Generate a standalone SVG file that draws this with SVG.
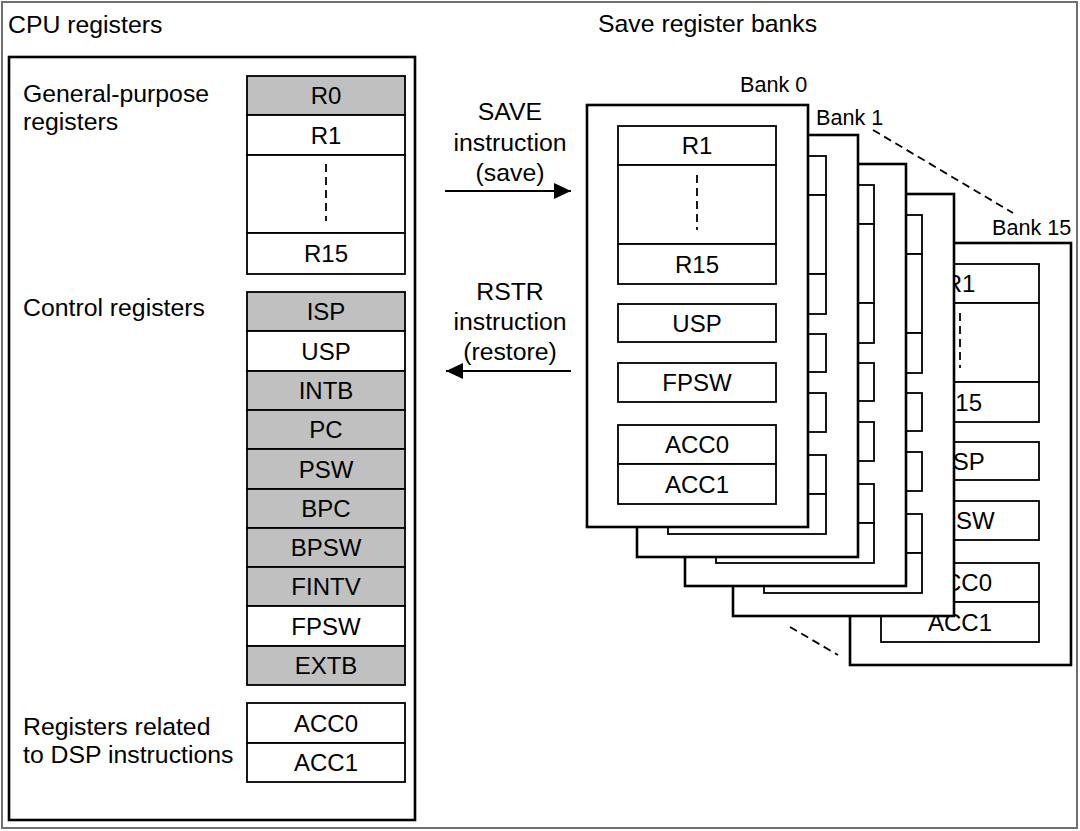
<svg xmlns="http://www.w3.org/2000/svg" width="1080" height="831" viewBox="0 0 1080 831">
<style>
  text { font-family: "Liberation Sans", Arial, sans-serif; fill: #000; }
  .lbl { font-size: 24.8px; }
  .reg { font-size: 24px; text-anchor: middle; }
  .bank-lbl { font-size: 21.6px; }
  .frame { fill: #fff; stroke: #000; stroke-width: 2.6; }
  .box { fill: #fff; stroke: #000; stroke-width: 1.8; }
  .gray { fill: #c0c0c0; stroke: #000; stroke-width: 1.8; }
  .dash { stroke: #000; stroke-width: 1.8; stroke-dasharray: 8 5; fill: none; }
  .conn { stroke: #000; stroke-width: 1.8; fill: none; }
</style>
<defs>
  <marker id="arrow" viewBox="0 0 17 16" refX="17" refY="8" markerWidth="17" markerHeight="16" markerUnits="userSpaceOnUse" orient="auto">
    <path d="M0,0 L17,8 L0,16 z" fill="#000"/>
  </marker>
</defs>
<rect x="0" y="0" width="1080" height="831" fill="#fff"/>
<rect id="outer-frame" x="2" y="2" width="1075" height="826" fill="none" stroke="#707070" stroke-width="2"/>

<text class="lbl" x="8" y="33">CPU registers</text>
<text class="lbl" x="598" y="32">Save register banks</text>

<g id="cpu-registers">
  <rect class="frame" x="9" y="57" width="406" height="763"/>
  <text class="lbl" x="23" y="102">General-purpose</text>
  <text class="lbl" x="23" y="130">registers</text>
  <text class="lbl" x="23" y="316">Control registers</text>
  <text class="lbl" x="23" y="735">Registers related</text>
  <text class="lbl" x="23" y="763">to DSP instructions</text>
</g>

<g id="gp-registers">
  <rect class="gray" x="247" y="76" width="158" height="39"/>
  <text class="reg" x="326" y="104">R0</text>
  <rect class="box" x="247" y="115" width="158" height="40"/>
  <text class="reg" x="326" y="143.5">R1</text>
  <rect class="box" x="247" y="155" width="158" height="78"/>
  <line class="dash" x1="326" y1="164" x2="326" y2="221"/>
  <rect class="box" x="247" y="233" width="158" height="41"/>
  <text class="reg" x="326" y="262">R15</text>
</g>

<g id="control-registers">
  <rect class="gray" x="247" y="292" width="158" height="39"/>
  <text class="reg" x="326" y="320">ISP</text>
  <rect class="box" x="247" y="331" width="158" height="40"/>
  <text class="reg" x="326" y="359.5">USP</text>
  <rect class="gray" x="247" y="371" width="158" height="39"/>
  <text class="reg" x="326" y="399">INTB</text>
  <rect class="gray" x="247" y="410" width="158" height="39"/>
  <text class="reg" x="326" y="438">PC</text>
  <rect class="gray" x="247" y="449" width="158" height="40"/>
  <text class="reg" x="326" y="477.5">PSW</text>
  <rect class="gray" x="247" y="489" width="158" height="39"/>
  <text class="reg" x="326" y="517">BPC</text>
  <rect class="gray" x="247" y="528" width="158" height="39"/>
  <text class="reg" x="326" y="556">BPSW</text>
  <rect class="gray" x="247" y="567" width="158" height="39"/>
  <text class="reg" x="326" y="595">FINTV</text>
  <rect class="box" x="247" y="606" width="158" height="40"/>
  <text class="reg" x="326" y="634.5">FPSW</text>
  <rect class="gray" x="247" y="646" width="158" height="39"/>
  <text class="reg" x="326" y="674">EXTB</text>
</g>

<g id="dsp-registers">
  <rect class="box" x="247" y="703" width="158" height="40"/>
  <text class="reg" x="326" y="731.5">ACC0</text>
  <rect class="box" x="247" y="743" width="158" height="39"/>
  <text class="reg" x="326" y="771">ACC1</text>
</g>

<g id="bank15" transform="translate(850,243)">
  <rect class="frame" x="0" y="0" width="221" height="422"/>
  <rect class="box" x="31" y="21" width="158" height="39"/>
  <rect class="box" x="31" y="60" width="158" height="79"/>
  <line class="dash" x1="110" y1="70" x2="110" y2="125"/>
  <rect class="box" x="31" y="139" width="158" height="40"/>
  <rect class="box" x="31" y="199" width="158" height="38"/>
  <rect class="box" x="31" y="258" width="158" height="39"/>
  <rect class="box" x="31" y="320" width="158" height="39"/>
  <rect class="box" x="31" y="359" width="158" height="40"/>
  <text class="reg" x="110" y="49">R1</text>
  <text class="reg" x="110" y="167.5">R15</text>
  <text class="reg" x="110" y="226.5">USP</text>
  <text class="reg" x="110" y="286">FPSW</text>
  <text class="reg" x="110" y="348">ACC0</text>
  <text class="reg" x="110" y="387.5">ACC1</text>
</g>

<g id="bank3" transform="translate(733,194)">
  <rect class="frame" x="0" y="0" width="221" height="422"/>
  <rect class="box" x="31" y="21" width="158" height="39"/>
  <rect class="box" x="31" y="60" width="158" height="79"/>
  <rect class="box" x="31" y="139" width="158" height="40"/>
  <rect class="box" x="31" y="199" width="158" height="38"/>
  <rect class="box" x="31" y="258" width="158" height="39"/>
  <rect class="box" x="31" y="320" width="158" height="39"/>
  <rect class="box" x="31" y="359" width="158" height="40"/>
</g>

<g id="bank2" transform="translate(685,164)">
  <rect class="frame" x="0" y="0" width="221" height="422"/>
  <rect class="box" x="31" y="21" width="158" height="39"/>
  <rect class="box" x="31" y="60" width="158" height="79"/>
  <rect class="box" x="31" y="139" width="158" height="40"/>
  <rect class="box" x="31" y="199" width="158" height="38"/>
  <rect class="box" x="31" y="258" width="158" height="39"/>
  <rect class="box" x="31" y="320" width="158" height="39"/>
  <rect class="box" x="31" y="359" width="158" height="40"/>
</g>

<g id="bank1" transform="translate(637,135)">
  <rect class="frame" x="0" y="0" width="221" height="422"/>
  <rect class="box" x="31" y="21" width="158" height="39"/>
  <rect class="box" x="31" y="60" width="158" height="79"/>
  <rect class="box" x="31" y="139" width="158" height="40"/>
  <rect class="box" x="31" y="199" width="158" height="38"/>
  <rect class="box" x="31" y="258" width="158" height="39"/>
  <rect class="box" x="31" y="320" width="158" height="39"/>
  <rect class="box" x="31" y="359" width="158" height="40"/>
</g>

<g id="bank0" transform="translate(587,105)">
  <rect class="frame" x="0" y="0" width="221" height="422"/>
  <rect class="box" x="31" y="21" width="158" height="39"/>
  <rect class="box" x="31" y="60" width="158" height="79"/>
  <line class="dash" x1="110" y1="70" x2="110" y2="125"/>
  <rect class="box" x="31" y="139" width="158" height="40"/>
  <rect class="box" x="31" y="199" width="158" height="38"/>
  <rect class="box" x="31" y="258" width="158" height="39"/>
  <rect class="box" x="31" y="320" width="158" height="39"/>
  <rect class="box" x="31" y="359" width="158" height="40"/>
  <text class="reg" x="110" y="49">R1</text>
  <text class="reg" x="110" y="167.5">R15</text>
  <text class="reg" x="110" y="226.5">USP</text>
  <text class="reg" x="110" y="286">FPSW</text>
  <text class="reg" x="110" y="348">ACC0</text>
  <text class="reg" x="110" y="387.5">ACC1</text>
</g>

<g id="bank-labels">
  <text class="bank-lbl" x="740" y="92">Bank 0</text>
  <text class="bank-lbl" x="816" y="125">Bank 1</text>
  <text class="bank-lbl" x="992" y="235">Bank 15</text>
  <line class="dash" x1="873" y1="130" x2="1013" y2="213"/>
  <line class="dash" x1="790" y1="627" x2="838" y2="655"/>
</g>

<g id="connectors">
  <line class="conn" x1="445" y1="191" x2="571" y2="191" marker-end="url(#arrow)"/>
  <line class="conn" x1="571" y1="371" x2="446" y2="371" marker-end="url(#arrow)"/>
  <text class="lbl" x="510" y="120" text-anchor="middle">SAVE</text>
  <text class="lbl" x="510" y="151" text-anchor="middle">instruction</text>
  <text class="lbl" x="510" y="181" text-anchor="middle">(save)</text>
  <text class="lbl" x="510" y="300" text-anchor="middle">RSTR</text>
  <text class="lbl" x="510" y="330" text-anchor="middle">instruction</text>
  <text class="lbl" x="510" y="360" text-anchor="middle">(restore)</text>
</g>
</svg>
